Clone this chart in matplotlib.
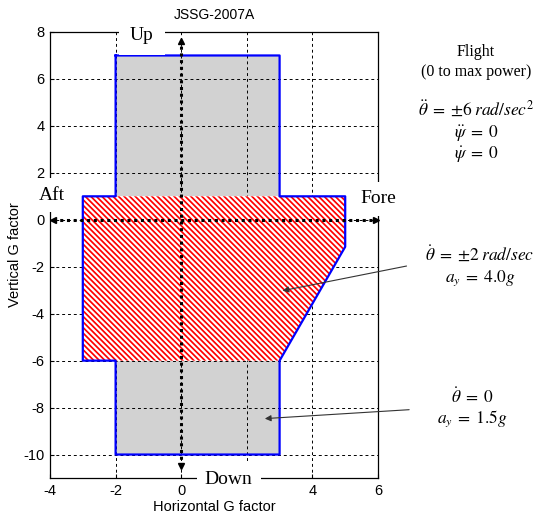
import matplotlib
matplotlib.use("Agg")
import matplotlib.pyplot as plt
from matplotlib.patches import Polygon

plt.rcParams['font.family'] = ['Liberation Sans', 'DejaVu Sans']
plt.rcParams['mathtext.fontset'] = 'stix'
plt.rcParams['hatch.linewidth'] = 1.25
plt.rcParams['hatch.color'] = 'red'
plt.rcParams['axes.unicode_minus'] = False

# ---- data ----
upper_x = [-2, 3, 3, -2]
upper_y = [1, 1, 7, 7]
lower_x = [-2, 3, 3, -2]
lower_y = [-10, -10, -6, -6]
hatch_x = [-3, 5, 5, 3, -3]
hatch_y = [1, 1, -1.15, -6, -6]
outline_x = [-2, 3, 3, 5, 5, 3, 3, -2, -2, -3, -3, -2, -2]
outline_y = [7, 7, 1, 1, -1.15, -6, -10, -10, -6, -6, 1, 1, 7]
xticks = [-4, -2, 0, 2, 4, 6]
xticklabels = ['-4', '-2', '0', '', '4', '6']   # "2" hidden behind "Down" in the original
yticks = [-10, -8, -6, -4, -2, 0, 2, 4, 6, 8]
vaxis_y = [-10.5, 7.6]
haxis_x = [-3.9, 5.95]

W, H = 537, 517
fig = plt.figure(figsize=(W / 100, H / 100), dpi=100)
ax = fig.add_axes([50 / W, 1 - 478 / H, 328 / W, (478 - 32) / H])
ax.set_xlim(-4, 6)
ax.set_ylim(-11, 8)
ax.set_xticks(xticks)
ax.set_xticklabels(xticklabels)
ax.set_yticks(yticks)
ax.tick_params(direction='in', length=3, labelsize=10.5, colors='black', pad=4)
ax.set_axisbelow(True)
ax.grid(True, color='black', linestyle=(0, (3, 3)), linewidth=0.7)
for s in ax.spines.values():
    s.set_linewidth(0.9)

gray = '#d2d2d2'
ax.add_patch(Polygon(list(zip(upper_x, upper_y)), closed=True, facecolor=gray,
                     edgecolor='none', zorder=0.2))
ax.add_patch(Polygon(list(zip(lower_x, lower_y)), closed=True, facecolor=gray,
                     edgecolor='none', zorder=0.2))
ax.add_patch(Polygon(list(zip(hatch_x, hatch_y)), closed=True, facecolor='white',
                     edgecolor='red', linewidth=0, hatch='\\\\\\\\\\\\', zorder=1))
ax.plot(outline_x, outline_y, color='#0000ff', linewidth=1.6, zorder=2)

# dotted direction axes with arrowheads
ax.plot([0, 0], vaxis_y, color='black', linestyle=(0, (1, 1.2)), linewidth=2.2, zorder=3)
ax.plot(haxis_x, [0, 0], color='black', linestyle=(0, (1, 1.2)), linewidth=2.2, zorder=3)
ax.plot([0], [vaxis_y[1]], marker='^', color='black', markersize=5, zorder=3, clip_on=False)
ax.plot([0], [vaxis_y[0]], marker='v', color='black', markersize=5, zorder=3, clip_on=False)
ax.plot([haxis_x[0]], [0], marker='<', color='black', markersize=5, zorder=3, clip_on=False)
ax.plot([haxis_x[1]], [0], marker='>', color='black', markersize=5, zorder=3, clip_on=False)

serif = ['Liberation Serif', 'DejaVu Serif']
for txt, x, y, pad in [('Up', -1.2, 7.85, 8), ('Down', 1.45, -11.05, 6),
                       ('Aft', -3.95, 1.05, 6), ('Fore', 6.0, 0.9, 6)]:
    ax.text(x, y, txt, family=serif, fontsize=14, ha='center', va='center',
            bbox=dict(facecolor='white', edgecolor='none', pad=pad),
            zorder=10, clip_on=False)

ax.set_title('JSSG-2007A', fontsize=10, pad=9)
ax.set_xlabel('Horizontal G factor', fontsize=10.5, labelpad=2)
ax.set_ylabel('Vertical G factor', fontsize=10.5, labelpad=1)

# right-side annotations
def ftext(px, py, s, size=11):
    fig.text(px / W, 1 - py / H, s, family=serif, fontsize=size, ha='center', va='center')

ftext(476, 52, 'Flight', 11.5)
ftext(476, 72, '(0 to max power)', 11.5)
ftext(476, 110, r'$\ddot{\theta}\;=\;{\pm}6\;rad/sec^2$', 12.5)
ftext(476, 133, r'$\ddot{\psi}\;=\;0$', 12.5)
ftext(476, 154, r'$\dot{\psi}\;=\;0$', 12.5)
ftext(480, 255, r'$\dot{\theta}\;=\;{\pm}2\;rad/sec$', 12.5)
ftext(480, 278, r'$a_y\;=\;4.0g$', 12.5)
ftext(472, 397, r'$\dot{\theta}\;=\;0$', 12.5)
ftext(472, 419, r'$a_y\;=\;1.5g$', 12.5)

arrow = dict(arrowstyle='-|>', color='#333333', lw=0.8, mutation_scale=9, shrinkA=0, shrinkB=0)
ax.annotate('', xy=(3.09, -3.02), xytext=(6.87, -1.97), arrowprops=arrow,
            annotation_clip=False, zorder=5)
ax.annotate('', xy=(2.55, -8.47), xytext=(6.95, -8.09), arrowprops=arrow,
            annotation_clip=False, zorder=5)

fig.savefig('out.png', dpi=100)
